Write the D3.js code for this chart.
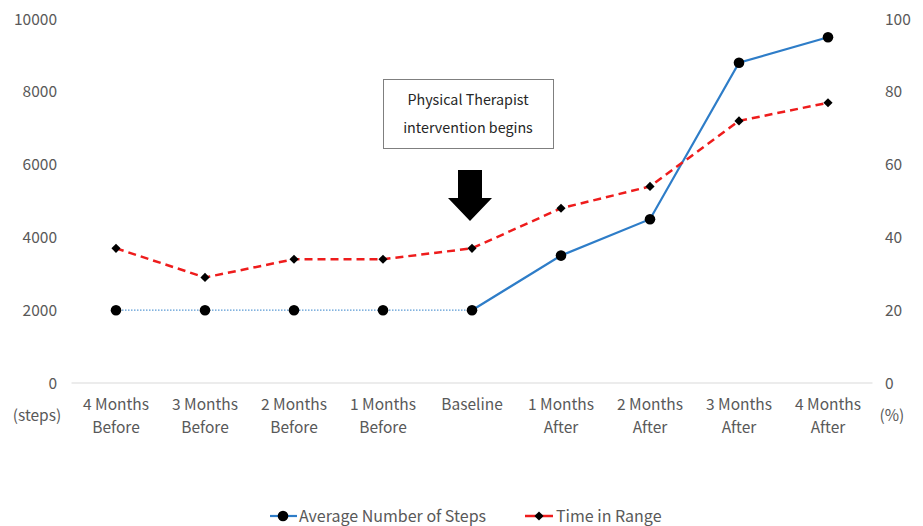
<html>
<head>
<script src="https://d3js.org/d3.v7.min.js"></script>
<style>
  body { margin: 0; background: #fff; }
  text { font-family: "Noto Sans CJK JP", "Noto Sans", sans-serif; fill: #595959; }
</style>
</head>
<body>
<svg id="chart" width="923" height="526"></svg>
<script>
// data
const categories = ["4 Months|Before", "3 Months|Before", "2 Months|Before", "1 Months|Before",
                    "Baseline", "1 Months|After", "2 Months|After", "3 Months|After", "4 Months|After"];
const steps = [2000, 2000, 2000, 2000, 2000, 3500, 4500, 8800, 9500];
const timeInRange = [37, 29, 34, 34, 37, 48, 54, 72, 77];
const leftTicks = [0, 2000, 4000, 6000, 8000, 10000];
const rightTicks = [0, 20, 40, 60, 80, 100];
const baselineIndex = 4;

const svg = d3.select("#chart");
const fs = 15.5;

const x = d3.scaleBand().domain(categories).range([71.5, 872.5]);
const yL = d3.scaleLinear().domain([0, 10000]).range([383, 19]);
const yR = d3.scaleLinear().domain([0, 100]).range([383, 19]);
const cx = d => x(d) + x.bandwidth() / 2;

// baseline axis line
svg.append("line")
  .attr("x1", 71.5).attr("x2", 872.5)
  .attr("y1", yL(0)).attr("y2", yL(0))
  .attr("stroke", "#d9d9d9").attr("stroke-width", 1);

// left ticks
svg.append("g").selectAll("text").data(leftTicks).join("text")
  .attr("x", 57).attr("y", d => yL(d) + 5.5)
  .attr("text-anchor", "end").attr("font-size", fs)
  .text(d => d);

// right ticks
svg.append("g").selectAll("text").data(rightTicks).join("text")
  .attr("x", 885).attr("y", d => yR(d) + 5.5)
  .attr("text-anchor", "start").attr("font-size", fs)
  .text(d => d);

// category labels
const xl = svg.append("g").selectAll("text").data(categories).join("text")
  .attr("text-anchor", "middle").attr("font-size", fs)
  .attr("x", d => cx(d));
xl.each(function(d) {
  const parts = d.split("|");
  const t = d3.select(this);
  parts.forEach((p, i) => {
    t.append("tspan").attr("x", cx(d)).attr("y", 410 + i * 23).text(p);
  });
});

svg.append("text").attr("x", 37).attr("y", 421).attr("text-anchor", "middle")
  .attr("font-size", fs).text("(steps)");
svg.append("text").attr("x", 892).attr("y", 421).attr("text-anchor", "middle")
  .attr("font-size", fs).text("(%)");

// steps line: dotted before baseline, solid after
const stepPts = steps.map((v, i) => [cx(categories[i]), yL(v)]);
const line = d3.line();
svg.append("path")
  .attr("d", line(stepPts.slice(0, baselineIndex + 1)))
  .attr("fill", "none").attr("stroke", "#5b9bd5")
  .attr("stroke-width", 1.2).attr("stroke-dasharray", "1.5 1.5");
svg.append("path")
  .attr("d", line(stepPts.slice(baselineIndex)))
  .attr("fill", "none").attr("stroke", "#2e7dc8").attr("stroke-width", 2.2);

// time in range line
const tirPts = timeInRange.map((v, i) => [cx(categories[i]), yR(v)]);
svg.append("path")
  .attr("d", line(tirPts))
  .attr("fill", "none").attr("stroke", "#ee1c1c")
  .attr("stroke-width", 2.5).attr("stroke-dasharray", "8 5");

// markers
svg.append("g").selectAll("circle").data(stepPts).join("circle")
  .attr("cx", d => d[0]).attr("cy", d => d[1]).attr("r", 5.3).attr("fill", "#000");
const diamond = d3.symbol().type(d3.symbolSquare).size(42);
svg.append("g").selectAll("path").data(tirPts).join("path")
  .attr("transform", d => `translate(${d[0]},${d[1]}) rotate(45)`)
  .attr("d", diamond).attr("fill", "#000");

// annotation box
svg.append("rect").attr("x", 383.5).attr("y", 79.5).attr("width", 170).attr("height", 69)
  .attr("fill", "#fff").attr("stroke", "#7f7f7f").attr("stroke-width", 1);
svg.append("text").attr("x", 468).attr("y", 105).attr("text-anchor", "middle")
  .attr("font-size", 14.3).style("fill", "#262626").text("Physical Therapist");
svg.append("text").attr("x", 468).attr("y", 133).attr("text-anchor", "middle")
  .attr("font-size", 14.3).style("fill", "#262626").text("intervention begins");

// arrow
const ax = cx(categories[baselineIndex]) - 2;
svg.append("path")
  .attr("d", `M${ax - 12},170 H${ax + 12} V198 H${ax + 22} L${ax},221 L${ax - 22},198 H${ax - 12} Z`)
  .attr("fill", "#000");

// legend
const lg = svg.append("g");
lg.append("line").attr("x1", 270).attr("x2", 297).attr("y1", 516).attr("y2", 516)
  .attr("stroke", "#2e7dc8").attr("stroke-width", 2.2);
lg.append("circle").attr("cx", 283).attr("cy", 516).attr("r", 5.3).attr("fill", "#000");
lg.append("text").attr("x", 299).attr("y", 521.5).attr("font-size", 16).text("Average Number of Steps");
lg.append("line").attr("x1", 525).attr("x2", 553).attr("y1", 516).attr("y2", 516)
  .attr("stroke", "#ee1c1c").attr("stroke-width", 2.5);
lg.append("path").attr("transform", "translate(539,516) rotate(45)")
  .attr("d", diamond).attr("fill", "#000");
lg.append("text").attr("x", 556).attr("y", 521.5).attr("font-size", 16).text("Time in Range");
</script>
</body>
</html>
